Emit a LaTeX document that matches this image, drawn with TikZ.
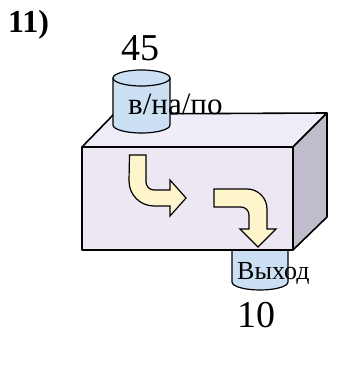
\documentclass[tikz,border=0pt]{standalone}
\usepackage{fontspec}
\setmainfont{Liberation Serif}
\usetikzlibrary{positioning}
\definecolor{lilac}{RGB}{236,231,243}
\definecolor{lilactop}{RGB}{240,236,248}
\definecolor{slate}{RGB}{192,188,203}
\definecolor{sky}{RGB}{204,224,244}
\definecolor{cream}{RGB}{255,245,204}
\tikzset{
  face/.style={draw=black,fill=#1,line width=1.6pt,line join=round},
  face/.default=lilac,
  drum/.style={draw=black,fill=sky,line width=1.2pt},
  turnarrow/.style={draw=black,fill=cream,line width=1.2pt,line join=miter},
  txt/.style={inner sep=0pt,font=\fontsize{#1}{#1}\selectfont},
}
\begin{document}
\begin{tikzpicture}[x=1pt,y=1pt]
    \useasboundingbox (0,0) rectangle (343,370);
    % output drum, behind the box
    \draw[drum] (232,120) -- (232,88) arc (180:360:28 and 8) -- (288,120);
    % box
    \draw[face=lilactop] (82,223) -- (114,256) -- (327,257) -- (293,223) -- cycle;
    \draw[face=slate] (293,223) -- (327,257) -- (327,153) -- (293,120) -- cycle;
    \draw[face] (82,120) rectangle (293,223);
    % input drum
    \draw[drum] (113,292) -- (113,245) arc (180:360:28.5 and 8) -- (170,292);
    \draw[drum] (141.5,292) ellipse (28.5 and 8);
    % flow arrows
    \draw[turnarrow] (129.5,215) -- (146,215) -- (146,188) arc (180:270:8)
      -- (170,180) -- (170,190) -- (186,172) -- (170,154) -- (170,164)
      -- (154,164) arc (270:180:25) -- cycle;
    \draw[turnarrow] (214,181) -- (247,181) arc (90:0:20) -- (267,141) -- (276,141)
      -- (258,123) -- (240,141) -- (249,141) -- (249,155) arc (0:90:8)
      -- (214,163) -- cycle;
    % texts
    \node[txt=32,font=\bfseries\fontsize{32}{32}\selectfont,anchor=west] (num) at (8,345) {11)};
    \node[txt=38] (inval) at (140,322) {45};
    \node[txt=31,anchor=base west] (intag) at (128,255) {в/на/по};
    \node[txt=26,anchor=base west] (outtag) at (237,90) {Выход};
    \node[txt=38] (outval) at (256,55) {10};
  \end{tikzpicture}
\end{document}
